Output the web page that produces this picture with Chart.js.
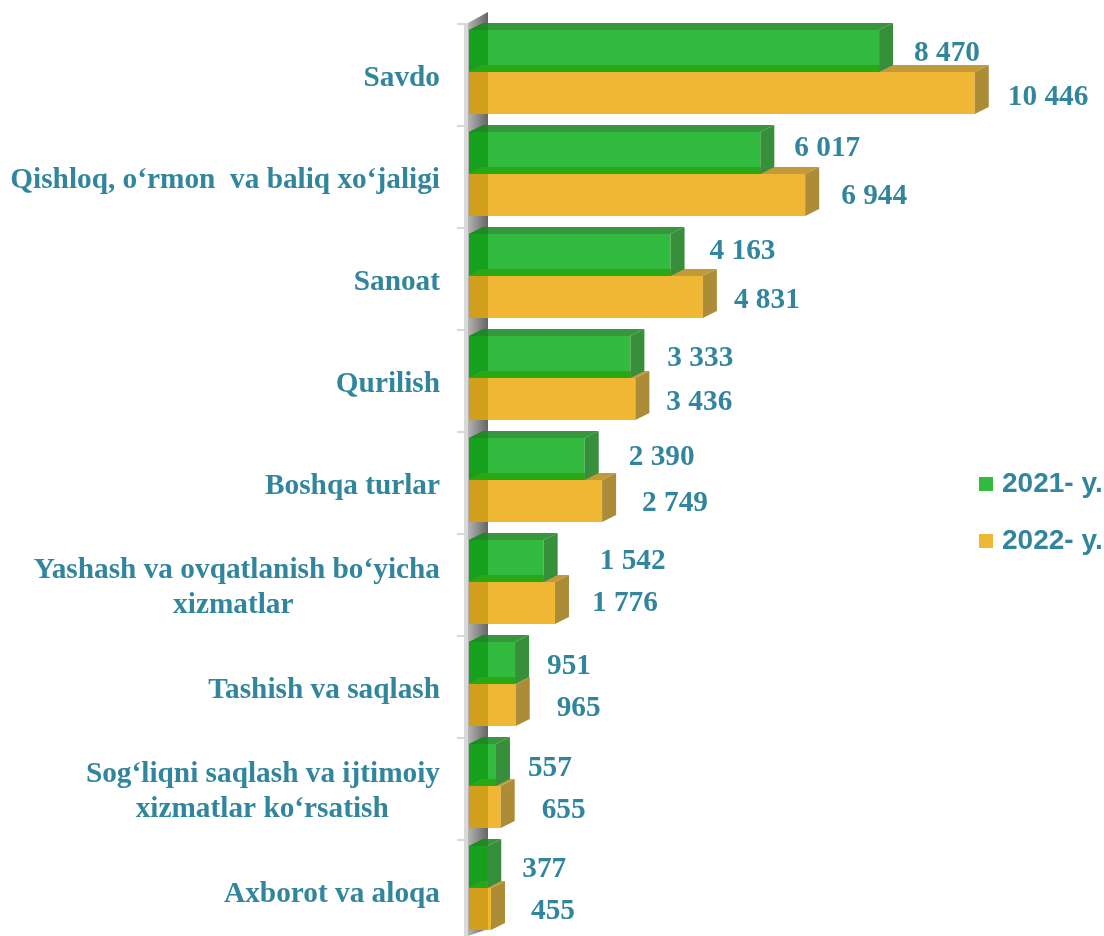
<!DOCTYPE html>
<html>
<head>
<meta charset="utf-8">
<style>
  html, body { margin: 0; padding: 0; width: 1104px; height: 936px; overflow: hidden; background: #fff; }
  canvas { display: block; }
</style>
<script src="https://cdn.jsdelivr.net/npm/chart.js@4"></script>
</head>
<body>
<canvas id="chart" width="1104" height="945"></canvas>
<script>
const nb = (n) => '\u00a0'.repeat(n);

const categories = [
    'Savdo',
    'Qishloq, o‘rmon  va baliq xo‘jaligi',
    'Sanoat',
    'Qurilish',
    'Boshqa turlar',
    ['Yashash va ovqatlanish bo‘yicha', 'xizmatlar' + nb(20)],
    'Tashish va saqlash',
    ['Sog‘liqni saqlash va ijtimoiy', 'xizmatlar ko‘rsatish' + nb(7)],
    'Axborot va aloqa'
];
const values2021 = [8470, 6017, 4163, 3333, 2390, 1542, 951, 557, 377];
const values2022 = [10446, 6944, 4831, 3436, 2749, 1776, 965, 655, 455];

// manual label nudges, the original chart had them dragged by hand
const nudge2021 = [[35, 2], [34, -5], [39, -4], [37, 1], [44, -2], [56, 0], [32, 3], [32, 3], [35, 2]];
const nudge2022 = [[33, 4], [36, 1], [31, 3], [31, 3], [40, 2], [37, 0], [41, 3], [41, 3], [40, 2]];

const textColor = '#31859c';
const depthX = 14;
const depthY = 7;
const wallWidth = 19;

function poly(ctx, color, pts) {
    ctx.fillStyle = color;
    ctx.beginPath();
    pts.forEach((p, i) => i ? ctx.lineTo(p[0], p[1]) : ctx.moveTo(p[0], p[1]));
    ctx.closePath();
    ctx.fill();
}

function formatValue(v) {
    return String(v).replace(/\B(?=(\d{3})+$)/g, ' ');
}

const bar3d = {
    id: 'bar3d',
    afterLayout(chart) {
        // legend sits over the empty right side of the plot
        const legend = chart.legend;
        legend.left = 955;
        legend.right = 1104;
        legend.top = 441;
        legend.bottom = 640;
    },
    beforeDatasetsDraw(chart) {
        const ctx = chart.ctx;
        const y = chart.scales.y;
        const left = chart.scales.x.left;
        const band = y.getPixelForValue(1) - y.getPixelForValue(0);
        const top = y.top;
        const bottom = y.bottom;

        // axis line and tick marks
        ctx.fillStyle = '#d9d9d9';
        ctx.fillRect(left - 5, top + 3, 4, bottom - top);
        for (let i = 0; i < categories.length; i++) {
            ctx.fillRect(left - 12, top + 2 + i * band, 11, 2);
        }

        // back wall
        const g = ctx.createLinearGradient(left - 1, 0, left + wallWidth, 0);
        g.addColorStop(0, '#b4b4b4');
        g.addColorStop(1, '#646464');
        poly(ctx, g, [
            [left - 1, top + 2],
            [left + wallWidth, top - 9],
            [left + wallWidth, bottom - 10],
            [left - 1, bottom - 3]
        ]);
    },
    afterDatasetsDraw(chart) {
        const ctx = chart.ctx;
        const green = chart.getDatasetMeta(0).data;
        const gold = chart.getDatasetMeta(1).data;

        green.forEach((g, i) => {
            const a = gold[i];
            const x0 = g.base;
            const gt = g.y - g.height / 2;
            const gb = g.y + g.height / 2;
            const at = a.y - a.height / 2;
            const ab = a.y + a.height / 2;

            // darker strip where the bars run through the wall
            ctx.fillStyle = '#16a01e';
            ctx.fillRect(x0, gt, Math.min(wallWidth, g.x - x0), g.height);
            ctx.fillStyle = '#d19f1c';
            ctx.fillRect(x0, at, Math.min(wallWidth, a.x - x0), a.height);

            // gold top and side
            poly(ctx, '#c29a3a', [[x0, at], [x0 + depthX, at - depthY], [a.x + depthX, at - depthY], [a.x, at]]);
            poly(ctx, '#ad8c38', [[a.x, at], [a.x + depthX, at - depthY], [a.x + depthX, ab - depthY], [a.x, ab]]);
            // gold top seen through the green bar
            poly(ctx, '#28a815', [[x0, at], [x0 + depthX, at - depthY], [g.x, at - depthY], [g.x, at]]);

            // green top and side
            poly(ctx, '#38963e', [[x0, gt], [x0 + depthX, gt - depthY], [g.x + depthX, gt - depthY], [g.x, gt]]);
            poly(ctx, '#1f8a25', [[x0, gt], [x0 + depthX, gt - depthY], [x0 + wallWidth, gt - depthY], [x0 + wallWidth, gt]]);
            poly(ctx, '#378f3c', [[g.x, gt], [g.x + depthX, gt - depthY], [g.x + depthX, gb - depthY], [g.x, gb]]);
        });

        // value labels
        ctx.font = 'bold 29.3px "Liberation Serif"';
        ctx.fillStyle = textColor;
        ctx.textAlign = 'left';
        ctx.textBaseline = 'middle';
        green.forEach((g, i) => {
            ctx.fillText(formatValue(values2021[i]), g.x + nudge2021[i][0], g.y + nudge2021[i][1]);
        });
        gold.forEach((a, i) => {
            ctx.fillText(formatValue(values2022[i]), a.x + nudge2022[i][0], a.y + nudge2022[i][1]);
        });
    }
};

new Chart(document.getElementById('chart'), {
    type: 'bar',
    data: {
        labels: categories,
        datasets: [
            { label: '2021- y.', data: values2021, backgroundColor: '#33bb40' },
            { label: '2022- y.', data: values2022, backgroundColor: '#efb734' }
        ]
    },
    options: {
        indexAxis: 'y',
        responsive: false,
        animation: false,
        events: [],
        barPercentage: 1,
        categoryPercentage: 0.824,
        layout: { padding: { top: 21, bottom: 6, right: 54, left: 0 } },
        scales: {
            x: { display: false, min: 0, max: 12000 },
            y: {
                afterFit(scale) {
                    scale.width = 469;
                    scale.paddingTop = 0;
                    scale.paddingBottom = 0;
                },
                grid: { display: false, drawTicks: false },
                border: { display: false },
                ticks: {
                    autoSkip: false,
                    padding: 29,
                    labelOffset: 6,
                    color: textColor,
                    font: { family: '"Liberation Serif"', weight: 'bold', size: 29.3 }
                }
            }
        },
        plugins: {
            tooltip: { enabled: false },
            legend: {
                position: 'chartArea',
                align: 'start',
                labels: {
                    usePointStyle: true,
                    pointStyle: 'rect',
                    boxWidth: 4,
                    boxHeight: 14,
                    padding: 29,
                    color: textColor,
                    font: { family: '"Liberation Sans"', weight: 'bold', size: 28 }
                }
            }
        }
    },
    plugins: [bar3d]
});
</script>
</body>
</html>
